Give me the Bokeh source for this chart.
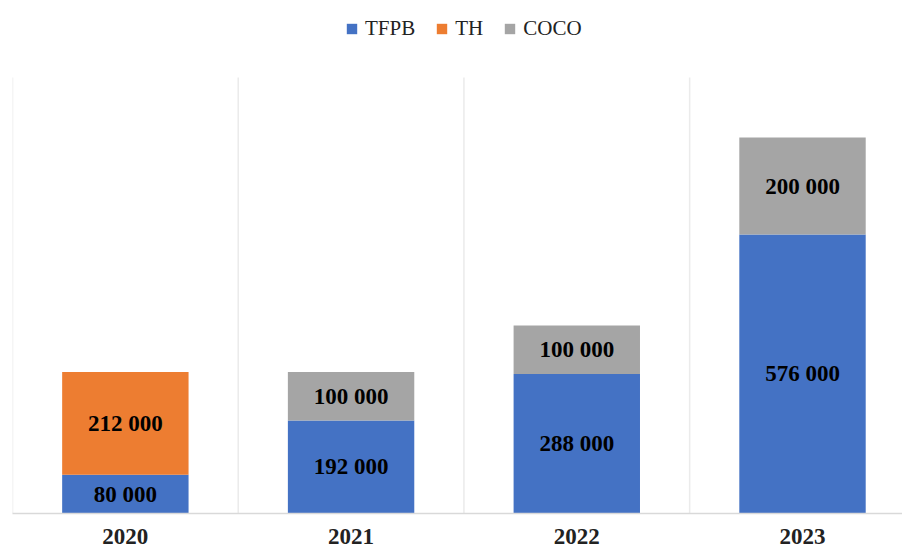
from bokeh.plotting import figure
from bokeh.models import (ColumnDataSource, Range1d, FixedTicker, Legend,
                          LegendItem, LabelSet)
from bokeh.embed import file_html
from bokeh.resources import INLINE

# Yearly funding by programme
years = ["2020", "2021", "2022", "2023"]
tfpb = [80000, 192000, 288000, 576000]
th = [212000, 0, 0, 0]
coco = [0, 100000, 100000, 200000]

series = ["TFPB", "TH", "COCO"]
colors = ["#4472C4", "#ED7D31", "#A5A5A5"]

# Value axis top; extra room above it holds the legend
y_top = 900000
y_room = y_top * 513 / 436


def fmt(v):
    return f"{v:,}".replace(",", " ")


x = list(range(len(years)))
src = ColumnDataSource(dict(x=x, TFPB=tfpb, TH=th, COCO=coco))

p = figure(width=902, height=548, output_backend="svg", toolbar_location=None,
           x_range=Range1d(-0.5, 3.443), y_range=Range1d(0, y_room),
           y_axis_location=None, min_border_left=12, min_border_right=0,
           min_border_top=0, min_border_bottom=35)
p.outline_line_color = None
p.background_fill_color = "white"
p.border_fill_color = "white"
p.grid.grid_line_color = None

# Separators between categories, running up to the top of the value axis
bounds = [i - 0.5 for i in range(len(years) + 1)]
p.segment(x0=bounds, y0=[0] * len(bounds), x1=bounds, y1=[y_top] * len(bounds),
          line_color="#EBEBEB", line_width=1.5)

renderers = p.vbar_stack(series, x="x", width=0.56, source=src,
                         color=colors, line_color=None)

# Value labels centred within each segment
lab_x, lab_y, lab_t = [], [], []
for i in x:
    base = 0
    for vals in (tfpb, th, coco):
        v = vals[i]
        if v:
            lab_x.append(i)
            lab_y.append(base + v / 2)
            lab_t.append(fmt(v))
        base += v
lsrc = ColumnDataSource(dict(x=lab_x, y=lab_y, t=lab_t))
p.add_layout(LabelSet(x="x", y="y", text="t", source=lsrc,
                      text_align="center", text_baseline="middle",
                      text_font="Liberation Serif", text_font_style="bold",
                      text_font_size="23px", text_color="black"))

# Category axis
ax = p.xaxis[0]
ax.ticker = FixedTicker(ticks=x)
ax.major_label_overrides = {i: y for i, y in zip(x, years)}
ax.major_label_text_font = "Liberation Serif"
ax.major_label_text_font_style = "bold"
ax.major_label_text_font_size = "23px"
ax.major_label_text_color = "#222222"
ax.major_label_standoff = 9
ax.axis_line_color = "#D9D9D9"
ax.axis_line_width = 1.5
ax.major_tick_line_color = None
ax.minor_tick_line_color = None

legend = Legend(items=[LegendItem(label=s, renderers=[r])
                       for s, r in zip(series, renderers)],
                orientation="horizontal", location=(333, 472),
                glyph_width=13, glyph_height=13, label_standoff=7,
                spacing=20, padding=0, margin=0,
                border_line_color=None, background_fill_alpha=0,
                label_text_font="Times New Roman",
                label_text_font_style="normal",
                label_text_font_size="21px", label_text_color="#222222")
p.add_layout(legend, "center")

open("out.html", "w").write(file_html(p, INLINE))
